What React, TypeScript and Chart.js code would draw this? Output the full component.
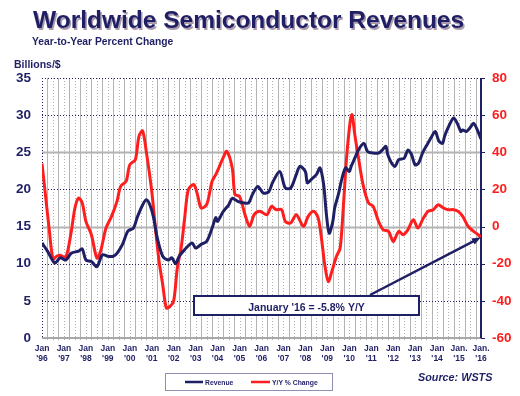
import React, { useEffect, useRef } from 'react';
import { Chart, registerables } from 'chart.js';

Chart.register(...registerables);

// Months counted from Jan 1996 (0) to Jan 2016 (240)
const revenueMonths = [0, 3, 7, 10, 13, 16, 20, 22, 24, 27, 30, 33, 36, 39, 41, 44, 47, 50, 52, 55, 57, 59, 61, 63, 66, 69, 71, 73, 75, 78, 82, 84, 87, 90, 93, 95, 96, 99, 102, 104, 107, 110, 113, 115, 118, 121, 124, 126, 130, 133, 136, 139, 141, 144, 145, 147, 150, 152, 154, 155.5, 157, 159, 160, 162, 164, 166, 168, 169, 171, 173, 176, 178, 181, 184, 186, 188, 189, 191, 193, 195, 198, 200, 202, 204, 206, 208, 210, 213, 215, 217, 219, 220, 222, 225, 227, 229, 230, 232, 234, 236, 238, 240];
const revenueValues = [12.8, 11.7, 10.1, 10.8, 10.5, 11.4, 11.7, 12.0, 10.5, 10.3, 9.6, 11.2, 11.0, 11.0, 11.4, 12.6, 14.4, 14.8, 16.2, 17.9, 18.6, 17.9, 16.2, 13.5, 11.0, 10.5, 10.8, 10.0, 11.0, 11.9, 12.8, 12.1, 12.6, 13.0, 14.8, 16.2, 15.7, 17.0, 17.9, 18.8, 18.4, 18.2, 18.2, 19.3, 20.4, 19.5, 19.7, 20.9, 22.4, 20.2, 20.2, 22.0, 23.1, 22.4, 20.9, 21.3, 22.0, 22.9, 20.6, 16.6, 14.1, 15.7, 17.5, 19.3, 21.5, 22.9, 22.4, 23.1, 24.2, 25.3, 26.2, 25.1, 24.9, 24.9, 25.3, 25.8, 24.7, 23.6, 23.1, 24.0, 24.2, 25.3, 24.7, 23.3, 23.6, 24.9, 25.8, 27.1, 27.8, 26.5, 26.2, 27.1, 28.3, 29.6, 28.9, 27.8, 28.0, 27.8, 28.3, 28.9, 28.0, 26.8];

const yoyMonths = [0, 2, 4, 6, 8, 10, 13, 16, 18, 20, 22, 24, 27, 30, 32, 35, 38, 41, 43, 46, 48, 51, 53, 55, 57, 60, 62, 64, 66, 68, 70, 72, 74, 76, 78, 80, 83, 85, 87, 90, 93, 95, 97, 99, 101, 104, 105.5, 108, 111, 113.5, 116, 119, 123, 125.5, 128, 131, 133, 136, 139, 143, 145.5, 148.5, 151, 153, 154.5, 156.5, 158.5, 161, 163, 164.7, 166.5, 168.5, 169.5, 171, 173, 175.5, 178.5, 181, 184, 186.5, 189.5, 192, 195, 197.5, 200, 203, 205.5, 208.5, 211, 214, 216.5, 219.5, 222, 225, 227.5, 230, 233, 236, 238.5, 240];
const yoyValues = [34, 16, -2, -17.5, -16, -15.5, -16.5, -2.6, 10, 15.4, 12.7, 2.8, -4.4, -17, -13.3, -0.8, 5.5, 13.6, 21.7, 24.4, 33.3, 36, 48.6, 51.5, 40.5, 19, -0.8, -18.7, -31.3, -43.8, -43, -40, -22, -12, 4.6, 19.9, 22.6, 17.2, 10, 11.8, 24.4, 28, 32.4, 37, 40.5, 31.5, 17.2, 16.3, 6.4, 0.1, 6.4, 8.2, 6.4, 10.9, 9.1, 9.1, 2.8, 1.9, 6.4, 0.1, 5.5, 8.2, 4.6, -8, -20, -29.6, -24, -16, -11.5, 10, 37, 56.7, 60.3, 49.5, 37, 22.6, 12.7, 10.9, 2.8, -1.7, -2.6, -8, -2.6, -4.4, -1.7, 3.7, -0.8, 4.6, 8.2, 9.1, 11.8, 10, 9.1, 9.1, 8.2, 5.5, 0.1, -2.6, -4.4, -5.8];

const yearMonths = [0, 12, 24, 36, 48, 60, 72, 84, 96, 108, 120, 132, 144, 156, 168, 180, 192, 204, 216, 228, 240];
const yearLabelsTop = ['Jan', 'Jan', 'Jan', 'Jan', 'Jan', 'Jan', 'Jan', 'Jan', 'Jan', 'Jan', 'Jan', 'Jan', 'Jan', 'Jan', 'Jan', 'Jan', 'Jan', 'Jan', 'Jan', 'Jan.', 'Jan.'];
const yearLabelsBottom = ["'96", "'97", "'98", "'99", "'00", "'01", "'02", "'03", "'04", "'05", "'06", "'07", "'08", "'09", "'10", "'11", "'12", "'13", "'14", "'15", "'16"];
const leftTicks = [0, 5, 10, 15, 20, 25, 30, 35];
const rightTicks = [-60, -40, -20, 0, 20, 40, 60, 80];

const titleText = 'Worldwide Semiconductor Revenues';
const subtitleText = 'Year-to-Year Percent Change';
const leftAxisTitle = 'Billions/$';
const sourceText = 'Source: WSTS';
const annotationText = "January '16 = -5.8% Y/Y";
const annotationTarget = { x: 240, y: -5.8 };

const NAVY = '#1f1f66';
const RED = '#ff1e1e';
const GRAY = '#b4b4b4';
const FAMILY = '"Liberation Sans", Arial, sans-serif';

export default function App() {
  const ref = useRef<HTMLCanvasElement>(null);

  useEffect(() => {
    const canvas = ref.current;
    if (!canvas) return;

    const decor = {
      id: 'decor',
      beforeDatasetsDraw(chart: any) {
        const ctx = chart.ctx;
        const { left, right, top, bottom } = chart.chartArea;
        const xs = chart.scales.x;
        const ys = chart.scales.y;
        ctx.save();
        // vertical quarterly grid
        for (let m = 3; m < 240; m += 3) {
          const x = Math.round(xs.getPixelForValue(m)) + 0.5;
          const q = m / 3;
          ctx.beginPath();
          ctx.strokeStyle = GRAY;
          ctx.lineWidth = 1;
          ctx.setLineDash(q % 2 === 1 ? [] : [1, 2]);
          ctx.moveTo(x, top);
          ctx.lineTo(x, bottom + 2);
          ctx.stroke();
        }
        // horizontal grid
        leftTicks.forEach((v) => {
          if (v === 0) return;
          const y = Math.round(ys.getPixelForValue(v)) + 0.5;
          ctx.beginPath();
          if (v === 25 || v === 15) {
            ctx.strokeStyle = GRAY;
            ctx.lineWidth = 2;
            ctx.setLineDash([]);
          } else {
            ctx.strokeStyle = NAVY;
            ctx.lineWidth = 1;
            ctx.setLineDash([1, 2]);
          }
          ctx.moveTo(left, y);
          ctx.lineTo(right, y);
          ctx.stroke();
        });
        // bottom axis
        ctx.setLineDash([]);
        ctx.strokeStyle = '#a8a8a8';
        ctx.lineWidth = 2;
        ctx.beginPath();
        ctx.moveTo(left, bottom);
        ctx.lineTo(right, bottom);
        ctx.stroke();
        // left axis dotted
        ctx.strokeStyle = NAVY;
        ctx.lineWidth = 1;
        ctx.setLineDash([1, 2]);
        ctx.beginPath();
        ctx.moveTo(left + 0.5, top);
        ctx.lineTo(left + 0.5, bottom);
        ctx.stroke();
        // right axis solid with ticks
        ctx.setLineDash([]);
        ctx.lineWidth = 2;
        ctx.beginPath();
        ctx.moveTo(right, top);
        ctx.lineTo(right, bottom);
        ctx.stroke();
        const y1 = chart.scales.y1;
        ctx.lineWidth = 1;
        rightTicks.forEach((v) => {
          const y = Math.round(y1.getPixelForValue(v)) + 0.5;
          ctx.beginPath();
          ctx.moveTo(right, y);
          ctx.lineTo(right + 4, y);
          ctx.stroke();
        });
        ctx.restore();
      },
      afterDraw(chart: any) {
        const ctx = chart.ctx;
        const xs = chart.scales.x;
        const y1 = chart.scales.y1;
        ctx.save();
        ctx.setLineDash([]);
        // annotation arrow
        const tx = xs.getPixelForValue(annotationTarget.x);
        const ty = y1.getPixelForValue(annotationTarget.y);
        const sx = 370;
        const sy = 295;
        ctx.strokeStyle = NAVY;
        ctx.fillStyle = NAVY;
        ctx.lineWidth = 2.5;
        const ang = Math.atan2(ty - sy, tx - sx);
        ctx.beginPath();
        ctx.moveTo(sx, sy);
        ctx.lineTo(tx - 6 * Math.cos(ang), ty - 6 * Math.sin(ang));
        ctx.stroke();
        ctx.beginPath();
        ctx.moveTo(tx, ty);
        ctx.lineTo(tx - 9 * Math.cos(ang) + 3.5 * Math.sin(ang), ty - 9 * Math.sin(ang) - 3.5 * Math.cos(ang));
        ctx.lineTo(tx - 9 * Math.cos(ang) - 3.5 * Math.sin(ang), ty - 9 * Math.sin(ang) + 3.5 * Math.cos(ang));
        ctx.closePath();
        ctx.fill();
        // annotation box
        ctx.fillStyle = '#ffffff';
        ctx.fillRect(193, 295, 227, 21);
        ctx.lineWidth = 2;
        ctx.strokeRect(194, 296, 225, 19);
        ctx.fillStyle = NAVY;
        ctx.font = `bold 10.5px ${FAMILY}`;
        ctx.textAlign = 'center';
        ctx.textBaseline = 'alphabetic';
        ctx.fillText(annotationText, 306.5, 310.5);

        // title
        ctx.textAlign = 'left';
        ctx.font = `bold 24.5px ${FAMILY}`;
        ctx.fillStyle = 'rgba(150,130,150,0.8)';
        ctx.fillText(titleText, 34.5, 29.5);
        ctx.fillStyle = NAVY;
        ctx.fillText(titleText, 33, 28);
        ctx.font = `bold 10.3px ${FAMILY}`;
        ctx.fillText(subtitleText, 32, 45);
        ctx.font = `bold 10.5px ${FAMILY}`;
        ctx.fillText(leftAxisTitle, 14, 68);
        ctx.font = `italic bold 10.8px ${FAMILY}`;
        ctx.fillText(sourceText, 418, 381);

        // legend
        ctx.strokeStyle = NAVY;
        ctx.lineWidth = 1;
        ctx.setLineDash([1, 1]);
        ctx.strokeRect(165.5, 373.5, 167, 17);
        ctx.setLineDash([]);
        const ds = chart.data.datasets;
        ctx.lineWidth = 2.5;
        ctx.strokeStyle = ds[0].borderColor;
        ctx.beginPath();
        ctx.moveTo(185, 382);
        ctx.lineTo(203, 382);
        ctx.stroke();
        ctx.strokeStyle = ds[1].borderColor;
        ctx.beginPath();
        ctx.moveTo(251, 382);
        ctx.lineTo(270, 382);
        ctx.stroke();
        ctx.fillStyle = NAVY;
        ctx.font = `bold 6.8px ${FAMILY}`;
        ctx.fillText(ds[0].label, 205, 384.5);
        ctx.fillText(ds[1].label, 272, 384.5);
        ctx.restore();
      },
    };

    const chart = new Chart(canvas, {
      type: 'line',
      data: {
        datasets: [
          {
            label: 'Revenue',
            data: revenueMonths.map((m, i) => ({ x: m, y: revenueValues[i] })),
            yAxisID: 'y',
            borderColor: NAVY,
            backgroundColor: NAVY,
            borderWidth: 3,
            pointRadius: 0,
            tension: 0.3,
          },
          {
            label: 'Y/Y % Change',
            data: yoyMonths.map((m, i) => ({ x: m, y: yoyValues[i] })),
            yAxisID: 'y1',
            borderColor: RED,
            backgroundColor: RED,
            borderWidth: 3,
            pointRadius: 0,
            tension: 0.3,
          },
        ],
      },
      options: {
        responsive: false,
        animation: false,
        devicePixelRatio: 1,
        layout: { padding: { top: 78, left: 0, right: 0, bottom: 0 } },
        plugins: { legend: { display: false }, tooltip: { enabled: false }, title: { display: false } },
        scales: {
          x: {
            type: 'linear',
            min: 0,
            max: 240,
            afterBuildTicks: (s: any) => {
              s.ticks = yearMonths.map((v) => ({ value: v }));
            },
            afterFit: (s: any) => {
              s.height = 58;
            },
            grid: { display: false, drawTicks: false },
            border: { display: false },
            ticks: {
              autoSkip: false,
              maxRotation: 0,
              minRotation: 0,
              padding: 5,
              color: NAVY,
              font: { family: FAMILY, size: 8.5, weight: 'bold', lineHeight: 1.22 },
              callback: (v: any) => {
                const i = yearMonths.indexOf(Number(v));
                return i >= 0 ? [yearLabelsTop[i], yearLabelsBottom[i]] : '';
              },
            },
          },
          y: {
            position: 'left',
            min: 0,
            max: 35,
            afterBuildTicks: (s: any) => {
              s.ticks = leftTicks.map((v) => ({ value: v }));
            },
            afterFit: (s: any) => {
              s.width = 42;
            },
            grid: { display: false, drawTicks: false },
            border: { display: false },
            ticks: { padding: 11, color: NAVY, font: { family: FAMILY, size: 13.5, weight: 'bold' } },
          },
          y1: {
            position: 'right',
            min: -60,
            max: 80,
            afterBuildTicks: (s: any) => {
              s.ticks = rightTicks.map((v) => ({ value: v }));
            },
            afterFit: (s: any) => {
              s.width = 39;
            },
            grid: { display: false, drawTicks: false },
            border: { display: false },
            ticks: { padding: 11, color: RED, font: { family: FAMILY, size: 13.5, weight: 'bold' } },
          },
        },
      },
      plugins: [decor],
    } as any);

    return () => chart.destroy();
  }, []);

  return (
    <div style={{ position: 'fixed', left: 0, top: 0, width: 520, height: 396, background: '#ffffff' }}>
      <canvas ref={ref} width={520} height={396} style={{ width: 520, height: 396, display: 'block' }} />
    </div>
  );
}
